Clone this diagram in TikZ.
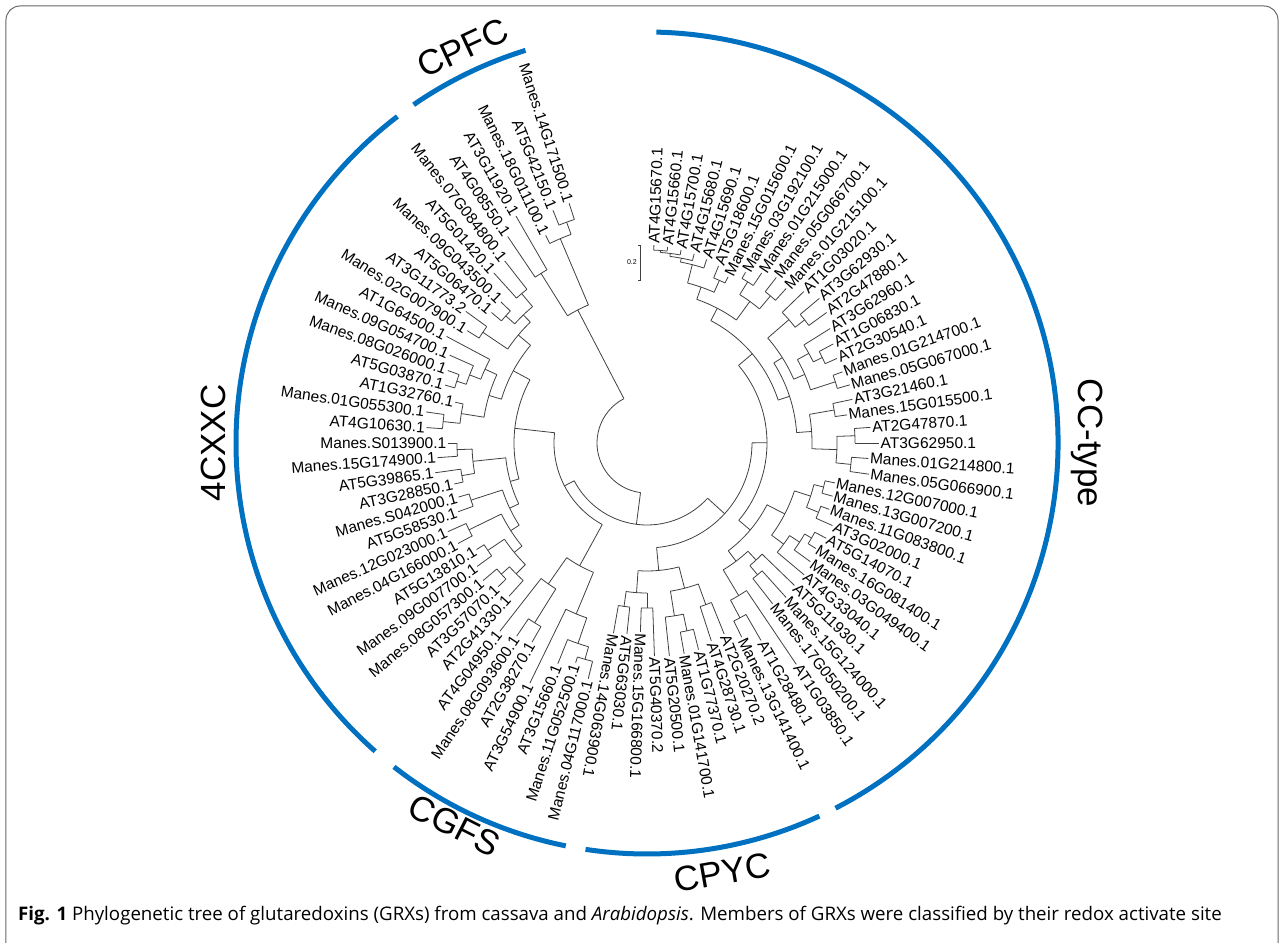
\documentclass[tikz,border=0pt]{standalone}
\usepackage{fontspec}
\setmainfont{Liberation Sans}
\newfontfamily\capfont{Open Sans}
\definecolor{grpblue}{RGB}{0,112,192}

\begin{document}
\begin{tikzpicture}[x=1pt,y=1pt,
    branch/.style={draw=black!75,line width=0.8pt},
    leaf/.style={font=\fontsize{15.5}{18}\selectfont,inner xsep=1.5pt,inner ysep=0.2pt},
    grparc/.style={draw=grpblue,line width=5pt},
    grplabel/.style={font=\fontsize{35}{40}\selectfont,inner sep=0pt},
    frame/.style={draw=black!60,line width=1pt,rounded corners=14pt}]
  \useasboundingbox (-647,-499) rectangle (637,443);
  \clip (-647,-499) rectangle (637,443);
  \draw[frame] (-641,-560) rectangle (631,437);

  \foreach \rr/\sa/\ea/\ma/\pr in {
      50/117.5/262.56/117.5/50,
      150/113/122/117.5/50, 222/110/116/113/150, 235/108/112/110/222, 200/120/124/122/150,
      82/207.45/317.66/262.56/50, 93/173.66/241.25/207.45/82, 133/151.63/195.69/173.66/93,
      152/140/163.25/151.63/133, 168/134/146/140/152, 178/130/138/134/168, 195/128/132/130/178,
      190/136/140/138/178, 198/144/148/146/168, 165/155.5/171/163.25/152, 178/152/159/155.5/165,
      190/156/162/159/178, 200/160/164/162/190, 188/168/174/171/165, 205/172/176/174/188,
      142/186/205.38/195.69/133, 175/182/190/186/142, 190/180/184/182/175, 188/188/192/190/175,
      152/198/212.75/205.38/142, 185/196/200/198/152, 162/206/219.5/212.75/152, 198/204/208/206/162,
      172/214/225/219.5/162, 192/212/216/214/172, 185/222/228/225/172, 196/220/224/222/185,
      140/235/247.5/241.25/93, 172/232/238/235/140, 212/236/240/238/172, 185/244/251/247.5/140,
      212/248/254/251/185, 225/252/256/254/212,
      105/275.25/360.08/317.66/82, 128/266/284.5/275.25/105, 150/262/270/266/128,
      165/260/264/262/150, 165/268/272/270/150, 150/279/290/284.5/128, 175/276/282/279/150,
      192/280/284/282/175, 172/288/292/290/150,
      120/319.88/400.28/360.08/105, 135/307/332.75/319.88/120, 148/301/313/307/135,
      178/298/304/301/148, 198/296/300/298/178, 160/310/316/313/148, 172/308/312/310/160,
      155/323.5/342/332.75/135, 170/320/327/323.5/155, 182/324/330/327/170, 190/328/332/330/182,
      172/338/346/342/155, 185/336/340/338/172, 182/344/348/346/172,
      138/378.13/422.44/400.28/120, 150/364/392.25/378.13/138, 165/358/370/364/150,
      190/354/362/358/165, 205/352/356/354/190, 208/360/364/362/190, 190/368/372/370/165,
      160/383.5/401/392.25/150, 172/378/389/383.5/160, 198/376/380/378/172, 185/386/392/389/172,
      195/384/388/386/185, 188/398/404/401/160, 200/396/400/398/188,
      152/414/430.88/422.44/138, 175/410/418/414/152, 192/408/412/410/175, 190/416/420/418/175,
      165/426/435.75/430.88/152, 178/424/428/426/165, 184/432/439.5/435.75/165,
      188/436/443/439.5/184, 191/440/446/443/188, 193/444/448/446/191}{
    \draw[branch] (\sa:\rr) arc[start angle=\sa,end angle=\ea,radius=\rr pt];
    \draw[branch] (\ma:\pr) -- (\ma:\rr);
  }

  \foreach \k/\ang/\tip/\pr/\lbl in {
      1/108/252/235/Manes.14G171500.1, 2/112/251/235/AT5G42150.1, 3/116/231/222/Manes.18G011100.1,
      4/120/262/200/AT3G11920.1, 5/124/249/200/AT4G08550.1, 6/128/231/195/Manes.07G084800.1,
      7/132/229/195/AT5G01420.1, 8/136/203/190/Manes.09G043500.1, 9/140/203/190/AT5G06470.1,
      10/144/224/198/AT3G11773.2, 11/148/212/198/Manes.02G007900.1, 12/152/227/178/AT1G64500.1,
      13/156/216/190/Manes.09G054700.1, 14/160/212/200/Manes.08G026000.1, 15/164/210/200/AT5G03870.1,
      16/168/196/188/AT1G32760.1, 17/172/223/205/Manes.01G055300.1, 18/176/221/205/AT4G10630.1,
      19/180/199/190/Manes.S013900.1, 20/184/210/190/Manes.15G174900.1, 21/188/214/188/AT5G39865.1,
      22/192/197/188/AT3G28850.1, 23/196/196/185/Manes.S042000.1, 24/200/201/185/AT5G58530.1,
      25/204/218/198/Manes.12G023000.1, 26/208/214/198/Manes.04G166000.1, 27/212/201/192/AT5G13810.1,
      28/216/210/192/Manes.09G007700.1, 29/220/214/196/Manes.08G057300.1, 30/224/207/196/AT3G57070.1,
      31/228/206/185/AT2G41330.1, 32/232/239/172/AT4G04950.1, 33/236/233/212/Manes.08G093600.1,
      34/240/230/212/AT2G38270.1, 35/244/267/185/AT3G54900.1, 36/248/238/212/AT3G15660.1,
      37/252/231/225/Manes.11G052500.1, 38/256/243/225/Manes.04G117000.1,
      39/260/193/165/Manes.14G063900.1, 40/264/192/165/AT5G63030.1, 41/268/189/165/Manes.15G166800.1,
      42/272/213/165/AT5G40370.2, 43/276/214/175/AT5G20500.1, 44/280/214/192/Manes.01G141700.1,
      45/284/213/192/AT1G77370.1, 46/288/208/172/AT4G28730.1, 47/292/206/172/AT2G20270.2,
      48/296/216/198/Manes.13G141400.1, 49/300/228/198/AT1G28480.1, 50/304/267/178/AT1G03850.1,
      51/308/204/172/Manes.17G050200.1, 52/312/208/172/Manes.15G124000.1, 53/316/205/160/AT5G11930.1,
      54/320/205/170/AT4G33040.1, 55/324/202/182/Manes.03G049400.1, 56/328/199/190/Manes.16G081400.1,
      57/332/203/190/AT5G14070.1, 58/336/203/185/AT3G02000.1, 59/340/194/185/Manes.11G083800.1,
      60/344/193/182/Manes.13G007200.1, 61/348/192/182/Manes.12G007000.1,
      62/352/224/205/Manes.05G066900.1, 63/356/222/205/Manes.01G214800.1, 64/360/232/208/AT3G62950.1,
      65/364/224/208/AT2G47870.1, 66/368/202/190/Manes.15G015500.1, 67/372/210/190/AT3G21460.1,
      68/376/211/198/Manes.05G067000.1, 69/380/208/198/Manes.01G214700.1, 70/384/208/195/AT2G30540.1,
      71/388/211/195/AT1G06830.1, 72/392/216/185/AT3G62960.1, 73/396/222/200/AT2G47880.1,
      74/400/225/200/AT3G62930.1, 75/404/218/188/AT1G03020.1, 76/408/208/192/Manes.01G215100.1,
      77/412/210/192/Manes.05G066700.1, 78/416/205/190/Manes.01G215000.1, 79/420/197/190/Manes.03G192100.1,
      80/424/185/178/Manes.15G015600.1, 81/428/191/178/AT5G18600.1, 82/432/193/184/AT4G15690.1,
      83/436/195/188/AT4G15680.1, 84/440/196/191/AT4G15700.1, 85/444/197/193/AT4G15660.1,
      86/448/198/193/AT4G15670.1}{
    \pgfmathtruncatemacro\side{and(\ang>100,\ang<258)}
    \ifnum\side=1
      \pgfmathsetmacro\rot{\ang+180}
      \node[leaf,anchor=east,rotate=\rot] (l\k) at (\ang:\tip) {\lbl};
      \draw[branch] (\ang:\pr) -- (l\k.east);
    \else
      \node[leaf,anchor=west,rotate=\ang] (l\k) at (\ang:\tip) {\lbl};
      \draw[branch] (\ang:\pr) -- (l\k.west);
    \fi
  }

  \coordinate (sbtop) at (-6.3,198);
  \coordinate (sbbot) at (-6.3,163);
  \draw[branch,line width=0.6pt] ([xshift=-2.5pt]sbtop) -- (sbtop) -- (sbbot) -- ([xshift=-2.5pt]sbbot);
  \node[font=\fontsize{7}{8}\selectfont,anchor=east,inner sep=1pt] (sblabel) at (-9,180.5) {0.2};

  \foreach \sa/\ea in {107.2/124.6, 127.4/228.6, 232/258.6, 261.4/294.8, 297.3/448.7}
    \draw[grparc] (\sa:411) arc[start angle=\sa,end angle=\ea,radius=411pt];

  \node[grplabel,rotate=25] (cpfc) at (115:436) {CPFC};
  \node[grplabel,rotate=90] (fourcxxc) at (180:434) {4CXXC};
  \node[grplabel,rotate=333] (cgfs) at (243.3:428) {CGFS};
  \node[grplabel,rotate=10] (cpyc) at (280:436) {CPYC};
  \node[grplabel,rotate=-90] (cctype) at (0:440) {CC-type};

  \node[anchor=base west,inner sep=0pt,font=\capfont\fontsize{18.7}{22}\selectfont] (caption) at (-629,-477)
    {\textbf{Fig. 1} Phylogenetic tree of glutaredoxins (GRXs) from cassava and \textit{Arabidopsis}. Members of GRXs were classified by their redox activate site};
\end{tikzpicture}
\end{document}
